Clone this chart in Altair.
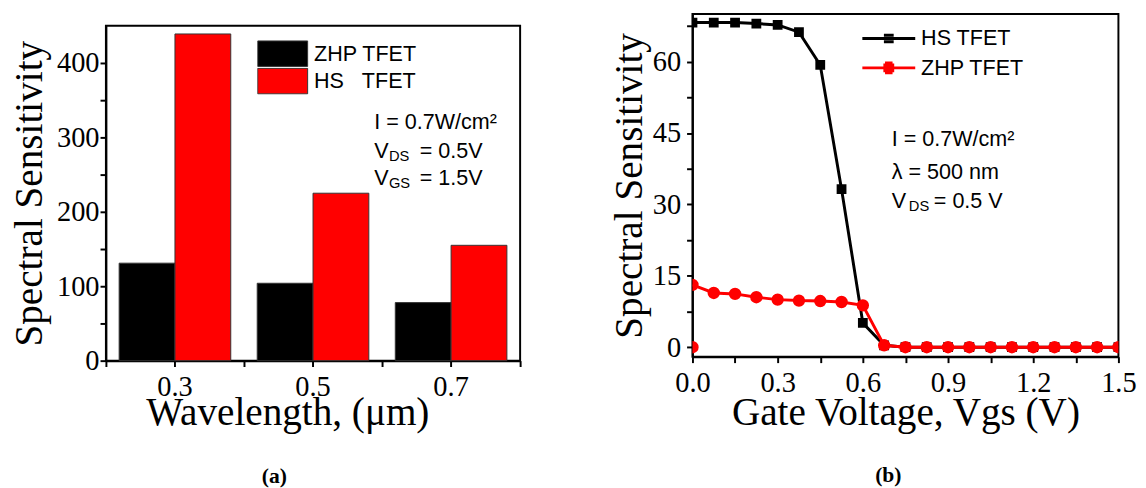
import altair as alt
import pandas as pd

# ---------------- Panel (a) data ----------------
wavelengths = ["0.3", "0.5", "0.7"]
bar_series = ["ZHP TFET", "HS\u00a0\u00a0\u00a0TFET"]
zhp_bar = [131, 104, 78]
hs_bar = [439, 225, 155]

# ---------------- Panel (b) data ----------------
vgs = [0.0, 0.075, 0.15, 0.225, 0.3, 0.375, 0.45, 0.525, 0.6, 0.675, 0.75,
       0.825, 0.9, 0.975, 1.05, 1.125, 1.2, 1.275, 1.35, 1.425, 1.5]
hs_line = [68.2, 68.2, 68.2, 68.0, 67.7, 66.2, 59.3, 33.2, 5.1, 0.4, 0.0,
           0.0, 0.0, 0.0, 0.0, 0.0, 0.0, 0.0, 0.0, 0.0, 0.0]
zhp_line = [13.1, 11.4, 11.2, 10.5, 10.0, 9.8, 9.7, 9.5, 8.8, 0.4, 0.0,
            0.0, 0.0, 0.0, 0.0, 0.0, 0.0, 0.0, 0.0, 0.0, 0.0]
line_series = ["HS TFET", "ZHP TFET"]
zhp_extra_x = [0.0]
zhp_extra_y = [0.0]

SERIF = "Liberation Serif"
SANS = "Liberation Sans"

# ---------- tables ----------
rows_a = []
for i, wl in enumerate(wavelengths):
    rows_a.append({"wl": wl, "series": bar_series[0], "value": zhp_bar[i]})
    rows_a.append({"wl": wl, "series": bar_series[1], "value": hs_bar[i]})
dfa = pd.DataFrame(rows_a)

rows_b = []
for i, x in enumerate(vgs):
    rows_b.append({"vgs": x, "val": hs_line[i], "series": line_series[0], "idx": i})
for i, x in enumerate(vgs):
    rows_b.append({"vgs": x, "val": zhp_line[i], "series": line_series[1], "idx": i})
dfb = pd.DataFrame(rows_b)
extra = pd.DataFrame({"vgs": zhp_extra_x, "val": zhp_extra_y,
                      "series": [line_series[1]] * len(zhp_extra_x), "idx": [-1] * len(zhp_extra_x)})
dfb_pts = pd.concat([dfb, extra], ignore_index=True)
dfb_leg = pd.DataFrame({"series": line_series})

one = pd.DataFrame({"a": [0]})


def label(text, x, y, size=22, font=SANS, weight="normal", align="left"):
    return alt.Chart(one).mark_text(
        text=text, align=align, baseline="middle", font=font, fontSize=size,
        fontWeight=weight, color="black"
    ).encode(x=alt.value(x), y=alt.value(y))


# ---------------- Panel (a) ----------------
A_W, A_H = 423, 342
rect_path = "M-1,-0.51H1V0.51H-1Z"

bars = alt.Chart(dfa).mark_bar(stroke="#333333", strokeWidth=1).encode(
    x=alt.X("wl:N", sort=wavelengths,
            scale=alt.Scale(domain=wavelengths, paddingInner=0, paddingOuter=0),
            axis=alt.Axis(title="Wavelength, (\u03bcm)", labelAngle=0, labelPadding=7,
                          titleX=40.7, titleY=64.7, titleAlign="left",
                          titleBaseline="alphabetic")),
    xOffset=alt.XOffset("series:N", sort=bar_series,
                        scale=alt.Scale(domain=bar_series, paddingInner=0, paddingOuter=0.237)),
    y=alt.Y("value:Q", scale=alt.Scale(domain=[0, 450], nice=False, zero=True),
            axis=alt.Axis(values=[0, 50, 100, 150, 200, 250, 300, 350, 400],
                          labelExpr="datum.value % 100 == 0 ? datum.label : ''",
                          title="Spectral Sensitivity", labelPadding=1,
                          titleX=-78, titleY=A_H / 2, titleAngle=270, titleAlign="center",
                          titleBaseline="middle")),
    color=alt.Color("series:N", sort=bar_series,
                    scale=alt.Scale(domain=bar_series, range=["#000000", "#ff0000"]),
                    legend=alt.Legend(orient="none", legendX=154.5, legendY=26.5, title=None,
                                      symbolType=rect_path, symbolSize=2601,
                                      symbolStrokeColor="#333333", symbolStrokeWidth=1,
                                      symbolOpacity=1, labelFont=SANS, labelFontSize=22,
                                      labelColor="black", labelOffset=6, rowPadding=0,
                                      clipHeight=28, padding=0)),
)

xminor_a = alt.Chart(dfa).mark_bar(opacity=0).encode(
    x=alt.X("wl:N", sort=wavelengths,
            axis=alt.Axis(orient="bottom", tickBand="extent", labels=False, domain=False,
                          title=None, grid=False))
)

ann_a = [
    label("I = 0.7W/cm\u00b2", 274, 98.7),
    label("V", 274, 128), label("DS", 289, 133, size=15), label("= 0.5V", 320.5, 128),
    label("V", 274, 155.3), label("GS", 289, 160.5, size=15), label("= 1.5V", 320.5, 155.3),
    label("(a)", 172, 459.5, size=22, font=SERIF, weight="bold", align="center"),
]

panel_a = alt.layer(bars, xminor_a, *ann_a).resolve_axis(x="independent").properties(
    width=A_W, height=A_H)

spacer = alt.Chart(one).mark_point(opacity=0).encode(
    x=alt.value(5), y=alt.value(5)
).properties(width=A_W, height=10, view=alt.ViewBackground(stroke="transparent"))

col_a = alt.vconcat(spacer, panel_a, spacing=0)

# ---------------- Panel (b) ----------------
B_W, B_H = 435, 350
sq_path = "M-1,0H1M-0.185,-0.126H0.185M-0.185,0.126H0.185"
ci_path = ("M-1,0H1M-0.205,-0.111H0.205M-0.205,0.111H0.205"
           "M-0.142,-0.185H0.142M-0.142,0.185H0.142")

leg_b = alt.Legend(
    orient="none", legendX=172, legendY=10, title=None, labelFont=SANS, labelFontSize=22,
    labelColor="black", symbolSize=2916, symbolStrokeWidth=3, labelOffset=4.5, rowPadding=0,
    clipHeight=30, padding=0, symbolOpacity=1,
)

x_scale_b = alt.Scale(domain=[0, 1.5], nice=False, zero=False)
y_scale_b = alt.Scale(domain=[-2, 70], nice=False, zero=False)

xb = alt.X("vgs:Q", scale=x_scale_b,
           axis=alt.Axis(values=[0, 0.15, 0.3, 0.45, 0.6, 0.75, 0.9, 1.05, 1.2, 1.35, 1.5],
                         labelExpr="round(datum.value * 100) % 30 == 0 ? format(datum.value, '.1f') : ''",
                         title="Gate Voltage, Vgs (V)", labelFlush=False, labelOverlap=False,
                         labelPadding=6, titleX=B_W / 2, titleY=69, titleAlign="center",
                         titleBaseline="alphabetic"))
yb = alt.Y("val:Q", scale=y_scale_b,
           axis=alt.Axis(values=[0, 15, 30, 45, 60], orient="left",
                         title="Spectral Sensitivity", labelPadding=6, labelOverlap=False,
                         titleX=-64, titleY=B_H / 2, titleAngle=270, titleAlign="center",
                         titleBaseline="middle"))
yb_plain = alt.Y("val:Q", scale=y_scale_b, axis=None)
yb_minor = alt.Y("val:Q", scale=y_scale_b,
                 axis=alt.Axis(values=[7.5, 22.5, 37.5, 52.5, 67.5], orient="left",
                               labels=False, domain=False, title=None, grid=False))

line_hs = alt.Chart(dfb).transform_filter(alt.datum.series == line_series[0]).mark_line(
    strokeWidth=3, clip=True, color="#000000").encode(x=xb, y=yb, order=alt.Order("idx:Q"))
pts_hs = alt.Chart(dfb_pts).transform_filter(alt.datum.series == line_series[0]).mark_point(
    shape="square", filled=True, size=100, opacity=1, clip=True, color="#000000").encode(
    x=xb, y=yb_plain)
line_zhp = alt.Chart(dfb).transform_filter(alt.datum.series == line_series[1]).mark_line(
    strokeWidth=3, clip=True, color="#ff0000").encode(x=xb, y=yb_plain, order=alt.Order("idx:Q"))
pts_zhp = alt.Chart(dfb_pts).transform_filter(alt.datum.series == line_series[1]).mark_point(
    shape="circle", filled=True, size=160, opacity=1, clip=True, color="#ff0000").encode(
    x=xb, y=yb_plain)
minor_b = alt.Chart(dfb).mark_point(opacity=0, clip=True).encode(x=xb, y=yb_minor)
legend_layer_b = alt.Chart(dfb_leg).mark_point(opacity=0, filled=False, strokeWidth=3).encode(
    x=alt.value(100), y=alt.value(100),
    color=alt.Color("series:N", sort=line_series,
                    scale=alt.Scale(domain=line_series, range=["#000000", "#ff0000"]),
                    legend=leg_b),
    shape=alt.Shape("series:N", sort=line_series,
                    scale=alt.Scale(domain=line_series, range=[sq_path, ci_path]),
                    legend=leg_b),
)

ann_b = [
    label("I = 0.7W/cm\u00b2", 203.5, 128),
    label("\u03bb = 500 nm", 203.5, 161),
    label("V", 203.5, 191), label("DS", 221, 196, size=15), label("= 0.5 V", 246.5, 191),
    label("(b)", 200, 470.5, size=22, font=SERIF, weight="bold", align="center"),
]

panel_b = alt.layer(line_hs, pts_hs, line_zhp, pts_zhp, minor_b, legend_layer_b,
                    *ann_b).resolve_axis(y="independent").properties(width=B_W, height=B_H)

chart = alt.hconcat(col_a, panel_b, spacing=88).resolve_scale(
    color="independent", shape="independent"
).properties(padding=0).configure_axis(
    labelFont=SERIF, labelFontSize=29, labelColor="black",
    titleFont=SERIF, titleFontSize=40, titleFontWeight="normal", titleColor="black",
    domainColor="black", domainWidth=2, tickColor="black", tickWidth=2, tickSize=6,
    grid=False,
).configure_view(stroke="black", strokeWidth=2)

chart.save("out.html", embed_options={"renderer": "svg", "actions": False})
